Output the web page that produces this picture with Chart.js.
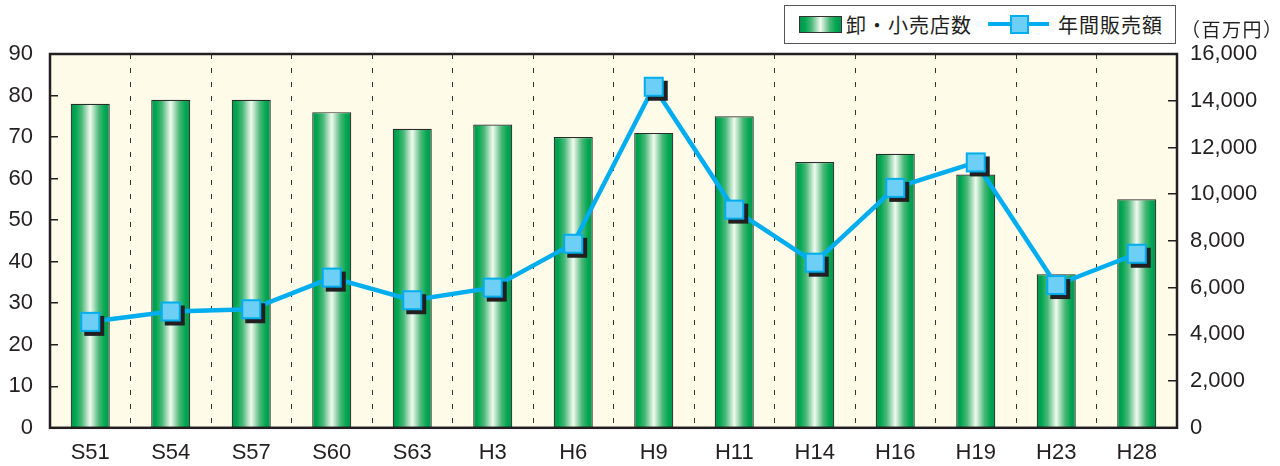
<!DOCTYPE html>
<html>
<head>
<meta charset="utf-8">
<script src="https://cdn.jsdelivr.net/npm/chart.js@4"></script>
<style>
  body { margin: 0; background: #fff; }
  #wrap { position: relative; width: 1280px; height: 466px; }
  #legend {
    position: absolute; left: 784px; top: 5px; width: 392px; height: 39px;
    box-sizing: border-box; border: 1.5px solid #555; background: #fff;
    display: flex; align-items: center;
    font-family: "Noto Sans CJK JP", sans-serif; font-size: 20px; color: #231f20;
    letter-spacing: 1px;
  }
  .sw-bar {
    display: inline-block; width: 43px; height: 17px; margin-left: 14px; box-sizing: border-box;
    border: 1px solid #333;
    background: linear-gradient(to right, #00964c 0%, #00a651 12%, #4bb878 28%, #f2faf0 50%, #4bb878 72%, #00a651 88%, #00964c 100%);
  }
  .sw-line { display: inline-block; position: relative; width: 61px; height: 19px; margin-left: 16px; }
  .sw-line .ln { position: absolute; left: 0; right: 0; top: 7px; height: 4px; background: #00aeef; }
  .sw-line .sq { position: absolute; left: 22px; top: 0; width: 19px; height: 19px; box-sizing: border-box;
    background: #6dcff6; border: 2px solid #00aeef; }
  #unit {
    position: absolute; left: 1181px; top: 15px;
    font-family: "Noto Sans CJK JP", sans-serif; font-size: 19px; color: #231f20;
    letter-spacing: 1.5px;
  }
</style>
</head>
<body>
<div id="wrap">
  <canvas id="chart" width="1280" height="466"></canvas>
  <div id="legend">
    <span class="sw-bar"></span><span style="margin-left:4px">卸・小売店数</span>
    <span class="sw-line"><span class="ln"></span><span class="sq"></span></span><span style="margin-left:9px">年間販売額</span>
  </div>
  <div id="unit">（百万円）</div>
</div>
<script>
// 조사 연도
const years = ['S51', 'S54', 'S57', 'S60', 'S63', 'H3', 'H6', 'H9', 'H11', 'H14', 'H16', 'H19', 'H23', 'H28'];
// 卸・小売店数
const storeCounts = [78, 79, 79, 76, 72, 73, 70, 71, 75, 64, 66, 61, 37, 55];
// 年間販売額 (百万円)
const annualSales = [4535, 4980, 5075, 6430, 5460, 6000, 7880, 14600, 9340, 7070, 10270, 11360, 6110, 7450];
// 눈금
const leftTicks = [0, 10, 20, 30, 40, 50, 60, 70, 80, 90];
const rightTicks = [0, 2000, 4000, 6000, 8000, 10000, 12000, 14000, 16000];

const ink = '#231f20';
const tickFont = { family: "'Liberation Sans', Arial, sans-serif", size: 22 };
const barPct = 0.485;

// 막대 그라데이션 (막대마다 가로 방향)
function barFill(ctx) {
    const chart = ctx.chart;
    const xs = chart.scales.x;
    if (!xs || ctx.type !== 'data' || !xs.width) return '#00a651';
    const cx = xs.getPixelForValue(ctx.dataIndex);
    const half = xs.width / years.length * barPct / 2;
    const g = chart.ctx.createLinearGradient(cx - half, 0, cx + half, 0);
    g.addColorStop(0, '#00964c');
    g.addColorStop(0.12, '#00a651');
    g.addColorStop(0.28, '#4bb878');
    g.addColorStop(0.5, '#f2faf0');
    g.addColorStop(0.72, '#4bb878');
    g.addColorStop(0.88, '#00a651');
    g.addColorStop(1, '#00964c');
    return g;
}

// 사각 마커 + 그림자
function makeMarker() {
    const c = document.createElement('canvas');
    c.width = 30; c.height = 30;
    const g = c.getContext('2d');
    g.fillStyle = ink;
    g.fillRect(9, 9, 20, 20);
    g.fillStyle = '#6dcff6';
    g.fillRect(5, 5, 20, 20);
    g.strokeStyle = '#00aeef';
    g.lineWidth = 2;
    g.strokeRect(6, 6, 18, 18);
    return c;
}

const plotBg = {
    id: 'plotBg',
    beforeDraw(chart) {
        const a = chart.chartArea, c = chart.ctx;
        c.save();
        c.fillStyle = '#fffbe9';
        c.fillRect(a.left, a.top, a.right - a.left, a.bottom - a.top);
        c.restore();
    },
    afterDatasetsDraw(chart) {
        const a = chart.chartArea, c = chart.ctx;
        c.save();
        c.strokeStyle = ink;
        c.lineWidth = 2.5;
        c.strokeRect(a.left, a.top, a.right - a.left, a.bottom - a.top);
        c.restore();
    }
};

new Chart(document.getElementById('chart'), {
    data: {
        labels: years,
        datasets: [{
            type: 'line',
            label: '年間販売額',
            data: annualSales,
            yAxisID: 'y1',
            borderColor: '#00aeef',
            borderWidth: 4.5,
            pointStyle: makeMarker(),
            pointRadius: 10,
            tension: 0,
            order: 0
        }, {
            type: 'bar',
            label: '卸・小売店数',
            data: storeCounts,
            yAxisID: 'y',
            backgroundColor: barFill,
            borderColor: '#2b2b2b',
            borderWidth: 1.2,
            borderSkipped: 'start',
            barPercentage: barPct,
            categoryPercentage: 1,
            order: 1
        }]
    },
    options: {
        responsive: false,
        animation: false,
        layout: { padding: { top: 54, left: 0, right: 0, bottom: 0 } },
        plugins: {
            legend: { display: false },
            tooltip: { enabled: false }
        },
        scales: {
            x: {
                offset: true,
                grid: { offset: true, drawOnChartArea: true, drawTicks: false, color: '#333', lineWidth: 1 },
                border: { display: false, dash: [5, 9] },
                ticks: { font: tickFont, color: ink, padding: 12 },
                afterFit(s) { s.height = 37; }
            },
            y: {
                position: 'left',
                min: 0, max: 90,
                afterBuildTicks(s) { s.ticks = leftTicks.map(v => ({ value: v })); },
                grid: { drawOnChartArea: false, drawTicks: true, tickLength: -8, color: ink, lineWidth: 1.5 },
                border: { display: false },
                ticks: { font: tickFont, color: ink, padding: 25 },
                afterFit(s) { s.width = 50; }
            },
            y1: {
                position: 'right',
                min: 0, max: 16000,
                afterBuildTicks(s) { s.ticks = rightTicks.map(v => ({ value: v })); },
                grid: { drawOnChartArea: false, drawTicks: true, tickLength: -9, color: ink, lineWidth: 1.5 },
                border: { display: false },
                ticks: {
                    font: tickFont, color: ink, padding: 22,
                    callback: v => v.toLocaleString('en-US')
                },
                afterFit(s) { s.width = 103; }
            }
        }
    },
    plugins: [plotBg]
});
</script>
</body>
</html>
